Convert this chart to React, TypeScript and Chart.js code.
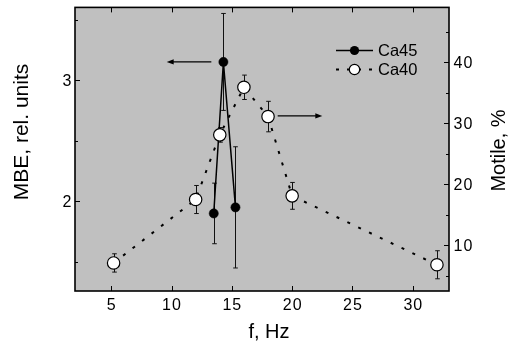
import React, { useEffect, useRef } from "react";
import { Chart, registerables } from "chart.js";

Chart.register(...registerables);

// ---- data ----
const ca45Freq = [13.5, 14.3, 15.3];
const ca45Mbe = [1.9, 3.15, 1.95];
const ca45Err = [0.25, 0.4, 0.5];

const ca40Freq = [5.2, 12, 14, 16, 18, 20, 32];
const ca40Motile = [7.1, 17.5, 28.1, 35.9, 31.1, 18.1, 6.8];
const ca40Err = [1.5, 2.3, 1.2, 2.0, 2.5, 2.2, 2.3];

const xTicks = [5, 10, 15, 20, 25, 30];
const yLeftTicks = [2, 3];
const yLeftMinor = [1.5, 2.5, 3.5];
const yRightTicks = [10, 20, 30, 40];
const yRightMinor = [5, 15, 25, 35, 45];

const arrowFromX = [13.3, 18.8];
const arrowToX = [9.6, 22.5];
const arrowY = [3.15, 31.2];
const arrowAxis = ["y", "y1"];

const legendLabels = ["Ca45", "Ca40"];

const FONT = "'Liberation Sans', Arial, sans-serif";

const decorPlugin = {
  id: "decor",
  beforeDraw(chart: any) {
    const { ctx, chartArea: a } = chart;
    ctx.save();
    ctx.fillStyle = "#c0c0c0";
    ctx.fillRect(a.left, a.top, a.right - a.left, a.bottom - a.top);
    ctx.restore();
  },
  beforeDatasetsDraw(chart: any) {
    const { ctx, scales } = chart;
    const x = scales.x;
    ctx.save();
    ctx.strokeStyle = "#111";
    ctx.lineWidth = 1;
    const bar = (xv: number, yv: number, e: number, ys: any) => {
      const px = Math.round(x.getPixelForValue(xv)) + 0.5;
      const t = ys.getPixelForValue(yv + e);
      const b = ys.getPixelForValue(yv - e);
      ctx.beginPath();
      ctx.moveTo(px, t);
      ctx.lineTo(px, b);
      ctx.moveTo(px - 2.3, t);
      ctx.lineTo(px + 2.3, t);
      ctx.moveTo(px - 2.3, b);
      ctx.lineTo(px + 2.3, b);
      ctx.stroke();
    };
    ca45Freq.forEach((f, i) => bar(f, ca45Mbe[i], ca45Err[i], scales.y));
    ca40Freq.forEach((f, i) => bar(f, ca40Motile[i], ca40Err[i], scales.y1));
    ctx.restore();
  },
  afterDatasetsDraw(chart: any) {
    const { ctx, chartArea: a, scales } = chart;
    const x = scales.x;
    const yl = scales.y;
    const yr = scales.y1;
    ctx.save();
    ctx.strokeStyle = "#000";
    ctx.fillStyle = "#000";

    // ticks
    ctx.lineWidth = 1;
    ctx.beginPath();
    xTicks.forEach((v) => {
      const p = Math.round(x.getPixelForValue(v)) + 0.5;
      ctx.moveTo(p, a.bottom);
      ctx.lineTo(p, a.bottom - 5);
      ctx.moveTo(p, a.top);
      ctx.lineTo(p, a.top + 5);
    });
    yLeftTicks.forEach((v) => {
      const p = Math.round(yl.getPixelForValue(v)) + 0.5;
      ctx.moveTo(a.left, p);
      ctx.lineTo(a.left + 5, p);
    });
    yLeftMinor.forEach((v) => {
      const p = Math.round(yl.getPixelForValue(v)) + 0.5;
      ctx.moveTo(a.left, p);
      ctx.lineTo(a.left + 3, p);
    });
    yRightTicks.forEach((v) => {
      const p = Math.round(yr.getPixelForValue(v)) + 0.5;
      ctx.moveTo(a.right, p);
      ctx.lineTo(a.right - 5, p);
    });
    yRightMinor.forEach((v) => {
      const p = Math.round(yr.getPixelForValue(v)) + 0.5;
      ctx.moveTo(a.right, p);
      ctx.lineTo(a.right - 3, p);
    });
    ctx.stroke();

    // frame
    ctx.lineWidth = 1.6;
    ctx.strokeRect(a.left, a.top, a.right - a.left, a.bottom - a.top);

    // tick labels
    ctx.font = `16px ${FONT}`;
    (ctx as any).letterSpacing = "1px";
    ctx.textBaseline = "alphabetic";
    ctx.textAlign = "center";
    xTicks.forEach((v) => {
      ctx.fillText(String(v), x.getPixelForValue(v) + 0.5, a.bottom + 19.3);
    });
    ctx.textAlign = "right";
    yLeftTicks.forEach((v) => {
      ctx.fillText(String(v), a.left - 2.5, yl.getPixelForValue(v) + 5.6);
    });
    ctx.textAlign = "left";
    yRightTicks.forEach((v) => {
      ctx.fillText(String(v), a.right + 4.5, yr.getPixelForValue(v) + 5.6);
    });
    (ctx as any).letterSpacing = "0px";

    // axis titles
    ctx.font = `20px ${FONT}`;
    ctx.textAlign = "center";
    ctx.fillText("f, Hz", 269, 338);
    ctx.save();
    ctx.font = `21px ${FONT}`;
    ctx.translate(27.7, 132);
    ctx.rotate(-Math.PI / 2);
    ctx.fillText("MBE, rel. units", 0, 0);
    ctx.restore();
    ctx.save();
    ctx.translate(505, 150.5);
    ctx.rotate(-Math.PI / 2);
    ctx.fillText("Motile, %", 0, 0);
    ctx.restore();

    // arrows
    ctx.lineWidth = 1.2;
    arrowFromX.forEach((fx, i) => {
      const ys = arrowAxis[i] === "y" ? yl : yr;
      const py = ys.getPixelForValue(arrowY[i]);
      const x0 = x.getPixelForValue(fx);
      const x1 = x.getPixelForValue(arrowToX[i]);
      const dir = x1 > x0 ? 1 : -1;
      ctx.beginPath();
      ctx.moveTo(x0, py);
      ctx.lineTo(x1 - dir * 5, py);
      ctx.stroke();
      ctx.beginPath();
      ctx.moveTo(x1, py);
      ctx.lineTo(x1 - dir * 7, py - 2.6);
      ctx.lineTo(x1 - dir * 7, py + 2.6);
      ctx.closePath();
      ctx.fill();
    });

    // legend
    const lx0 = 336;
    const lx1 = 373;
    const lmx = 354.5;
    const ly = [50.5, 69.5];
    ctx.lineWidth = 1.5;
    ctx.beginPath();
    ctx.moveTo(lx0, ly[0]);
    ctx.lineTo(lx1, ly[0]);
    ctx.stroke();
    ctx.beginPath();
    ctx.arc(lmx, ly[0], 4.6, 0, Math.PI * 2);
    ctx.fill();
    ctx.save();
    ctx.lineWidth = 2;
    ctx.setLineDash([3, 8]);
    ctx.beginPath();
    ctx.moveTo(lx0, ly[1]);
    ctx.lineTo(lx1, ly[1]);
    ctx.stroke();
    ctx.restore();
    ctx.beginPath();
    ctx.arc(lmx, ly[1], 5.2, 0, Math.PI * 2);
    ctx.fillStyle = "#fff";
    ctx.fill();
    ctx.lineWidth = 1.2;
    ctx.strokeStyle = "#000";
    ctx.stroke();
    ctx.fillStyle = "#000";
    ctx.font = `16.5px ${FONT}`;
    ctx.textAlign = "left";
    legendLabels.forEach((t, i) => ctx.fillText(t, 378, ly[i] + 5.8));

    ctx.restore();
  },
};

export default function App() {
  const ref = useRef<HTMLCanvasElement | null>(null);
  useEffect(() => {
    if (!ref.current) return;
    const chart = new Chart(ref.current, {
      type: "scatter",
      data: {
        datasets: [
          {
            label: "Ca40",
            data: ca40Freq.map((f, i) => ({ x: f, y: ca40Motile[i] })),
            yAxisID: "y1",
            showLine: true,
            borderColor: "#000",
            borderWidth: 2,
            borderDash: [3, 9],
            pointRadius: 6.2,
            pointHoverRadius: 6.2,
            pointBackgroundColor: "#fff",
            pointBorderColor: "#000",
            pointBorderWidth: 1.2,
            order: 0,
          } as any,
          {
            label: "Ca45",
            data: ca45Freq.map((f, i) => ({ x: f, y: ca45Mbe[i] })),
            yAxisID: "y",
            showLine: true,
            borderColor: "#000",
            borderWidth: 1.5,
            pointRadius: 4.6,
            pointHoverRadius: 4.6,
            pointBackgroundColor: "#000",
            pointBorderColor: "#000",
            pointBorderWidth: 0.5,
            order: 1,
          } as any,
        ],
      },
      options: {
        responsive: false,
        animation: false,
        devicePixelRatio: 1,
        layout: { padding: { left: 75, right: 61, top: 7, bottom: 54 } },
        plugins: { legend: { display: false }, tooltip: { enabled: false } },
        events: [],
        scales: {
          x: { type: "linear", min: 2, max: 33, display: false },
          y: { type: "linear", position: "left", min: 1.26, max: 3.6, display: false },
          y1: { type: "linear", position: "right", min: 2.5, max: 49, display: false },
        },
      },
      plugins: [decorPlugin],
    });
    return () => chart.destroy();
  }, []);
  return (
    <div style={{ position: "absolute", left: 0, top: 0, width: 510, height: 345, background: "#fff" }}>
      <canvas ref={ref} width={510} height={345} style={{ display: "block" }} />
    </div>
  );
}
